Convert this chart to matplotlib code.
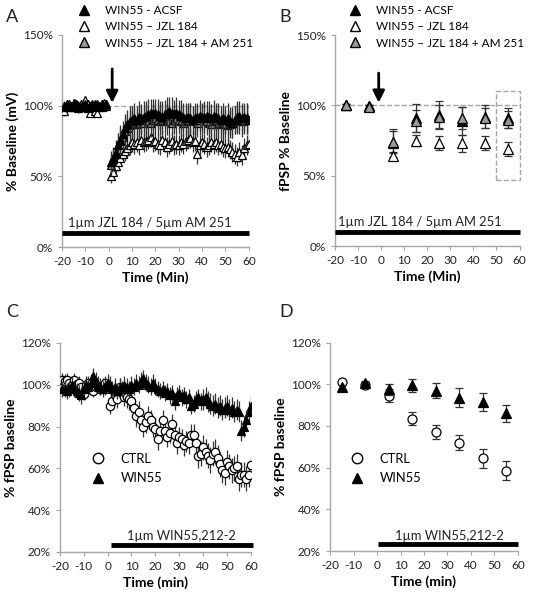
import numpy as np
import matplotlib.pyplot as plt
from matplotlib.lines import Line2D

plt.rcParams['font.family'] = ['Lato', 'DejaVu Sans']
plt.rcParams['axes.unicode_minus'] = False

# ---- Panel A data (every minute) ----
a_time = list(range(-19, 0)) + list(range(1, 61))
a_acsf = [100, 101, 99, 100, 102, 101, 100, 99, 100, 101, 98, 99, 100, 101, 100, 99, 101, 100, 101,
          60, 62, 66, 72, 76, 80, 84, 87, 89, 90, 91, 90, 92, 91, 92, 93, 94, 95, 94, 95,
          94, 93, 92, 94, 95, 96, 95, 94, 95, 94, 93, 92, 91, 92, 91, 90, 91, 92, 93, 91,
          92, 93, 92, 91, 93, 92, 91, 90, 91, 90, 91, 89, 88, 90, 92, 93, 91, 92, 91, 90]
a_jzl = [96, 101, 99, 100, 102, 100, 98, 100, 99, 104, 100, 95, 101, 96, 95, 100, 101, 102, 100,
         50, 53, 57, 60, 63, 66, 68, 70, 72, 74, 73, 74, 72, 76, 74, 75, 76, 78, 74, 75,
         73, 72, 76, 74, 71, 73, 75, 72, 73, 72, 74, 73, 75, 76, 77, 74, 75, 66, 72, 74,
         73, 71, 72, 74, 73, 74, 72, 73, 71, 70, 71, 69, 67, 66, 64, 67, 65, 70, 72, 73]
a_am = [99, 100, 101, 100, 99, 101, 100, 101, 99, 100, 101, 100, 99, 100, 101, 100, 99, 100, 101,
        58, 63, 67, 72, 75, 78, 82, 84, 86, 87, 88, 87, 88, 89, 88, 90, 89, 88, 90, 91,
        90, 89, 90, 91, 90, 89, 88, 90, 91, 90, 89, 88, 89, 90, 91, 90, 89, 88, 90, 92,
        91, 89, 88, 87, 89, 90, 88, 87, 88, 87, 86, 87, 88, 90, 91, 90, 89, 90, 91, 90]
a_err_base = [3, 2, 3, 2, 3, 2, 3, 3, 2, 3, 3, 2, 3, 2, 3, 2, 3, 2, 3]
a_err_post = [8, 8, 9, 9, 10, 9, 10, 10, 11, 10, 11, 10, 11, 10, 11, 10, 11, 10, 11, 10,
              11, 10, 11, 10, 11, 10, 11, 10, 11, 10, 11, 10, 11, 10, 11, 10, 11, 10, 11, 10,
              11, 10, 11, 10, 11, 10, 11, 10, 11, 10, 11, 10, 11, 10, 11, 10, 11, 10, 11, 10]
a_err_jzl_post = [5, 5, 6, 6, 6, 6, 7, 7, 7, 7, 7, 7, 7, 7, 7, 7, 7, 7, 7, 7,
                  7, 7, 7, 7, 7, 7, 7, 7, 7, 7, 7, 7, 7, 7, 7, 7, 7, 7, 7, 7,
                  7, 7, 7, 7, 7, 7, 7, 7, 7, 7, 7, 7, 7, 7, 7, 7, 7, 7, 7, 7]

# ---- Panel B data (10-min bins) ----
b_time = [-15, -5, 5, 15, 25, 35, 45, 55]
b_acsf = [100, 99.5, 73, 91, 93, 89, 92, 91]
b_acsf_err = [1, 1, 10, 10, 10, 10, 8, 7]
b_jzl = [100, 99.5, 64, 75, 73, 73, 73, 69]
b_jzl_err = [1, 1, 3, 4, 5, 6, 5, 5]
b_am = [100, 99, 74, 89, 92, 91, 91, 90]
b_am_err = [1, 1, 8, 8, 8, 8, 7, 6]

# ---- Panel C data (every minute) ----
c_time = list(range(-19, 61))
c_ctrl = [102.5, 102, 102.5, 101, 100, 102.5, 100.5, 101, 99, 95.5, 100, 101, 98, 97, 99, 99, 98, 100, 101,
          100, 90, 92, 95, 93, 99, 96, 94, 94, 93, 92, 89, 85, 87, 83, 80, 82, 85, 83, 80,
          79, 74, 78, 83, 78, 75, 77, 81, 76, 72, 75, 74, 71, 73, 72, 76, 76, 72, 66, 67,
          70, 68, 66, 64, 67, 68, 65, 62, 59, 58, 63, 61, 59, 60, 61, 55, 57, 57, 55, 57, 61.5]
c_ctrl_err = [3, 3, 3, 3, 3, 3, 3, 3, 3, 3, 3, 3, 3, 3, 3, 3, 3, 3, 3,
              3, 4, 4, 4, 4, 4, 4, 4, 5, 5, 5, 5, 5, 5, 5, 5, 5, 5, 5, 5,
              5, 5, 5, 5, 5, 5, 5, 5, 5, 5, 5, 5, 5, 5, 5, 5, 5, 5, 6, 6,
              6, 6, 6, 6, 6, 6, 6, 6, 6, 6, 6, 6, 6, 6, 6, 6, 6, 6, 6, 6, 5]
c_win = [98, 98, 97, 98, 100, 98, 97, 96, 95, 98, 100, 99, 101, 104, 102, 100, 99, 98, 99,
         101, 100, 98, 99, 97, 99, 98, 100, 99, 98, 100, 99, 101, 100, 102, 103, 101, 100, 99, 101,
         99, 98, 97, 98, 96, 97, 95, 96, 92, 95, 96, 94, 95, 93, 94, 90, 91, 93, 94, 92,
         93, 94, 92, 91, 90, 91, 89, 90, 88, 89, 90, 88, 89, 87, 88, 87, 78, 80, 83, 87, 90]
c_win_err = [4, 4, 4, 4, 4, 4, 4, 4, 4, 4, 4, 4, 4, 4, 4, 4, 4, 4, 4,
             4, 4, 4, 4, 4, 4, 4, 4, 4, 4, 4, 4, 4, 4, 4, 4, 4, 4, 4, 4,
             4, 4, 4, 4, 4, 4, 4, 4, 4, 4, 4, 4, 4, 4, 4, 4, 4, 4, 4, 4,
             5, 5, 5, 5, 5, 5, 5, 5, 5, 5, 5, 5, 5, 5, 5, 5, 5, 5, 5, 5, 5]

# ---- Panel D data (10-min bins) ----
d_time = [-15, -5, 5, 15, 25, 35, 45, 55]
d_ctrl = [101, 99.5, 94.5, 83.5, 77, 72, 64.5, 58.5]
d_ctrl_err = [1, 1, 3, 3, 3.5, 3.5, 4.5, 4.5]
d_win = [98.5, 100.5, 97.5, 99.5, 97, 93.5, 91.5, 86]
d_win_err = [1, 1, 2.5, 3, 3.5, 4.5, 4.5, 4]

GREY = '#a6a6a6'
TXT = '#222222'
FS = 9.3


def style_axes(ax, ylim, yticks, xlabel, ylabel):
    ax.set_xlim(-20, 60)
    ax.set_ylim(*ylim)
    ax.set_xticks(range(-20, 61, 10))
    ax.set_yticks(yticks)
    ax.set_yticklabels(['%d%%' % v for v in yticks])
    for s in ['top', 'right']:
        ax.spines[s].set_visible(False)
    for s in ['left', 'bottom']:
        ax.spines[s].set_color(GREY)
        ax.spines[s].set_linewidth(1.0)
    ax.tick_params(colors=GREY, labelcolor=TXT, labelsize=8.5, length=3, direction='out')
    ax.set_xlabel(xlabel, fontsize=10, fontweight='bold', labelpad=3)
    ax.set_ylabel(ylabel, fontsize=10, fontweight='bold', labelpad=3)


def series(ax, x, y, err, marker, face, ms, z):
    ax.errorbar(x, y, yerr=err, fmt=marker, mfc=face, mec='black', mew=0.9, ms=ms,
                ecolor='#333333', elinewidth=0.9, capsize=0, zorder=z)


fig = plt.figure(figsize=(5.34, 5.99), dpi=100)
axA = fig.add_axes([0.116, 0.5876, 0.350, 0.354])
axB = fig.add_axes([0.627, 0.5893, 0.346, 0.352])
axC = fig.add_axes([0.112, 0.0785, 0.358, 0.349])
axD = fig.add_axes([0.618, 0.0801, 0.352, 0.348])

# Panel A
axA.plot([-20, 60], [100, 100], ls='--', color=GREY, lw=1, zorder=1)
errA_am = a_err_base + a_err_post
errA_jzl = a_err_base + a_err_jzl_post
series(axA, a_time, a_jzl, errA_jzl, '^', 'white', 5.5, 3)
series(axA, a_time, a_am, errA_am, '^', '#9a9a9a', 5.5, 4)
series(axA, a_time, a_acsf, errA_am, '^', 'black', 5.5, 5)
axA.plot([-20, 60], [10, 10], color='black', lw=3.5, solid_capstyle='butt', clip_on=False, zorder=6)
axA.text(-17.5, 14, '1µm JZL 184 / 5µm AM 251', fontsize=FS, color=TXT)
axA.annotate('', xy=(1.5, 100), xytext=(1.5, 128),
             arrowprops=dict(arrowstyle='-|>,head_width=0.35,head_length=0.7', color='black', lw=2))
style_axes(axA, (0, 150), [0, 50, 100, 150], 'Time (Min)', '% Baseline (mV)')

# Panel B
axB.plot([-20, 60], [100, 100], ls='--', color=GREY, lw=1, zorder=1)
for x, y, e, f in [(b_time, b_jzl, b_jzl_err, 'white'), (b_time, b_acsf, b_acsf_err, 'black'),
                   (b_time, b_am, b_am_err, '#9a9a9a')]:
    axB.errorbar(x, y, yerr=e, fmt='^', mfc=f, mec='black', mew=0.9, ms=6.5,
                 ecolor='#333333', elinewidth=0.9, capsize=3, capthick=0.9, zorder=4)
axB.plot([50, 60, 60, 50, 50], [47, 47, 110, 110, 47], ls='--', color=GREY, lw=1, clip_on=False)
axB.plot([-20, 60], [10, 10], color='black', lw=3.5, solid_capstyle='butt', clip_on=False, zorder=6)
axB.text(-18.5, 14, '1µm JZL 184 / 5µm AM 251', fontsize=FS, color=TXT)
axB.annotate('', xy=(-1, 100), xytext=(-1, 125),
             arrowprops=dict(arrowstyle='-|>,head_width=0.35,head_length=0.7', color='black', lw=2))
style_axes(axB, (0, 150), [0, 50, 100, 150], 'Time (Min)', 'fPSP % Baseline')

legend_handles = [
    Line2D([], [], marker='^', ls='none', mfc='black', mec='black', ms=7, label='WIN55 - ACSF'),
    Line2D([], [], marker='^', ls='none', mfc='white', mec='black', ms=7, label='WIN55 \u2013 JZL 184'),
    Line2D([], [], marker='^', ls='none', mfc='#9a9a9a', mec='black', ms=7, label='WIN55 \u2013 JZL 184 + AM 251'),
]
for ax, xpix in [(axA, 78), (axB, 349)]:
    ax.legend(handles=legend_handles, loc='upper left', bbox_to_anchor=(xpix / 534, 1 - 5 / 599),
              bbox_transform=fig.transFigure, frameon=False, fontsize=8.5, handlelength=1.1,
              handletextpad=1.2, labelspacing=0.45, borderpad=0, borderaxespad=0)

# Panel C
series(axC, c_time, c_ctrl, c_ctrl_err, 'o', 'white', 6, 3)
series(axC, c_time, c_win, c_win_err, '^', 'black', 6, 4)
axC.plot([1.5, 61], [23.5, 23.5], color='black', lw=3.5, solid_capstyle='butt', clip_on=False, zorder=6)
axC.text(31, 25.5, '1µm WIN55,212-2', fontsize=FS, color=TXT, ha='center')
style_axes(axC, (20, 120), [20, 40, 60, 80, 100, 120], 'Time (min)', '% fPSP baseline')

# Panel D
axD.errorbar(d_time, d_ctrl, yerr=d_ctrl_err, fmt='o', mfc='white', mec='black', mew=0.9, ms=6.5,
             ecolor='#333333', elinewidth=0.9, capsize=3, capthick=0.9, zorder=3)
axD.errorbar(d_time, d_win, yerr=d_win_err, fmt='^', mfc='black', mec='black', mew=0.9, ms=6.5,
             ecolor='#333333', elinewidth=0.9, capsize=3, capthick=0.9, zorder=4)
axD.plot([0.5, 60], [23.5, 23.5], color='black', lw=3.5, solid_capstyle='butt', clip_on=False, zorder=6)
axD.text(31, 25.5, '1µm WIN55,212-2', fontsize=FS, color=TXT, ha='center')
style_axes(axD, (20, 120), [20, 40, 60, 80, 100, 120], 'Time (min)', '% fPSP baseline')

cd_handles = [
    Line2D([], [], marker='o', ls='none', mfc='white', mec='black', ms=7.5, label='CTRL'),
    Line2D([], [], marker='^', ls='none', mfc='black', mec='black', ms=7.5, label='WIN55'),
]
for ax, xpix in [(axC, 92), (axD, 351)]:
    ax.legend(handles=cd_handles, loc='upper left', bbox_to_anchor=(xpix / 534, 1 - 453 / 599),
              bbox_transform=fig.transFigure, frameon=False, fontsize=FS, handlelength=1.0,
              handletextpad=1.2, labelspacing=0.55, borderpad=0, borderaxespad=0)

for lab, x, y in [('A', 6, 9), ('B', 279, 9), ('C', 6, 304), ('D', 279, 304)]:
    fig.text(x / 534, 1 - y / 599, lab, fontsize=13, va='top', ha='left', color=TXT)

fig.savefig('out.png', dpi=100)
